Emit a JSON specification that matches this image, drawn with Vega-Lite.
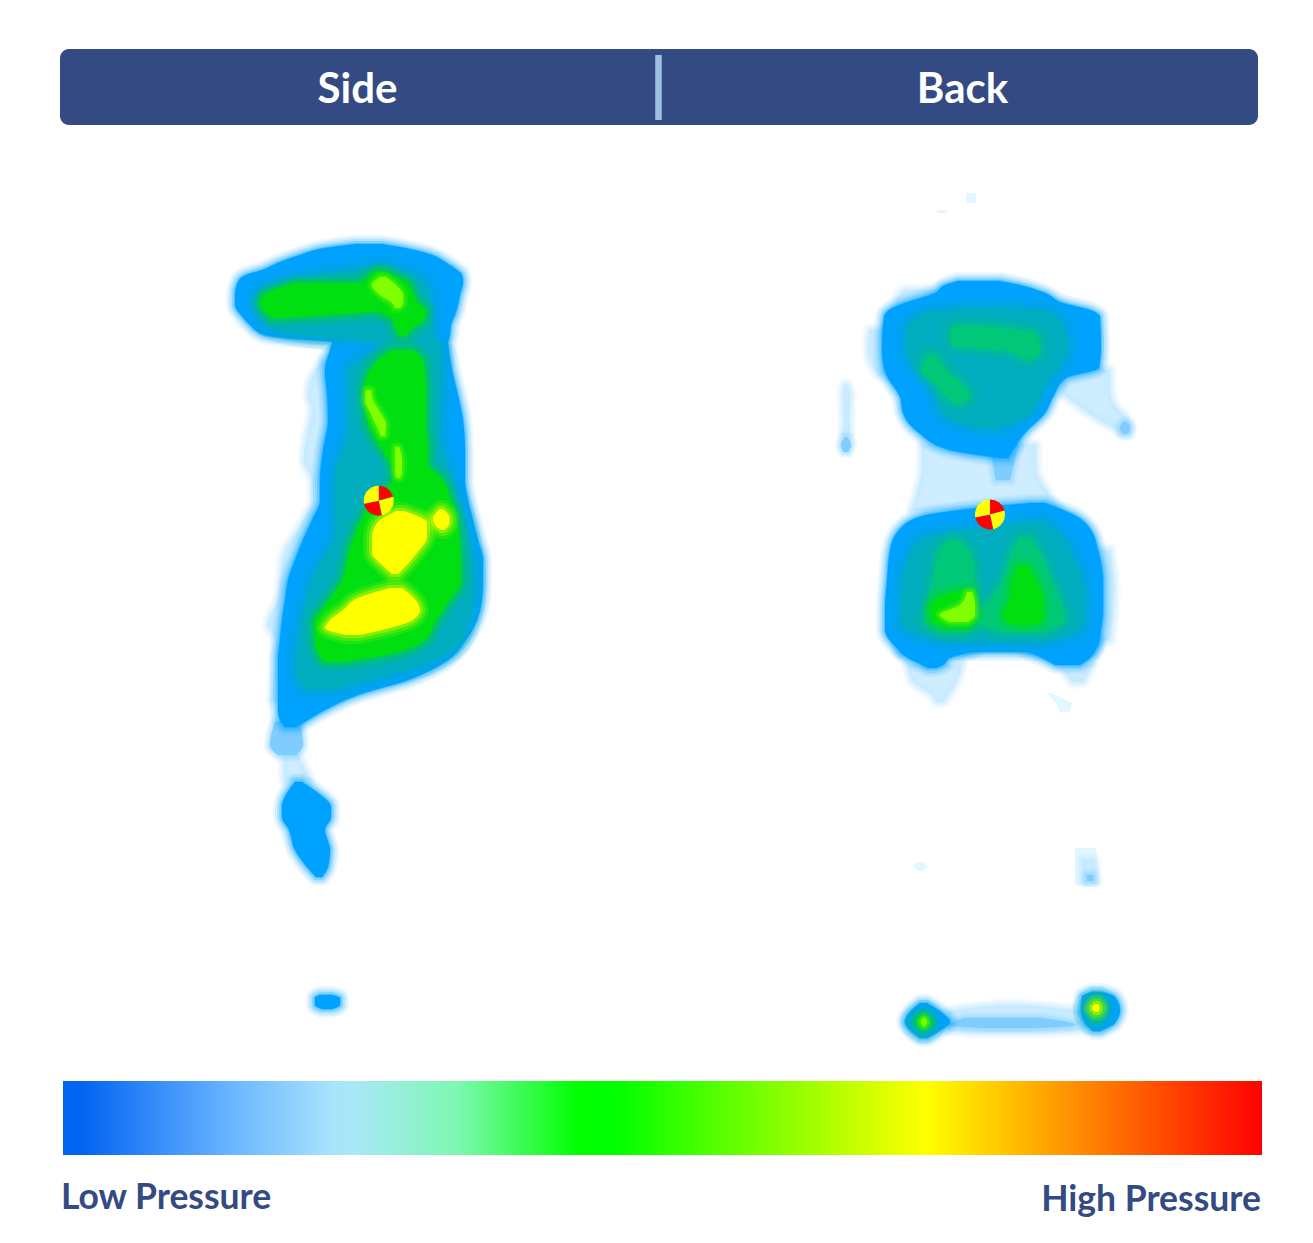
{
"$schema":"https://vega.github.io/schema/vega-lite/v6.json",
"padding":{"top":49,"left":0,"right":0,"bottom":0},
"spacing":0,
"background":"white",
"config":{"view":{"stroke":null},"area":{"strokeJoin":"round"}},
"datasets":{
"contours":[
{"b":"s1","p":"p0","y":193,"x0":966,"x1":976},{"b":"s1","p":"p0","y":203,"x0":966,"x1":976},
{"b":"s2","p":"p0","y":210,"x0":937,"x1":947},{"b":"s2","p":"p0","y":213,"x0":937,"x1":947},
{"b":"s3","p":"p0","y":693,"x0":1047,"x1":1051},{"b":"s3","p":"p0","y":703,"x0":1056,"x1":1072},{"b":"s3","p":"p0","y":712,"x0":1060,"x1":1070},
{"b":"s4","p":"p0","y":848,"x0":1075,"x1":1096},{"b":"s4","p":"p0","y":885,"x0":1075,"x1":1100},
{"b":"s5","p":"p0","y":862,"x0":918,"x1":923},{"b":"s5","p":"p0","y":866,"x0":912,"x1":928},{"b":"s5","p":"p0","y":871,"x0":918,"x1":923},

{"b":"h1","p":"p1","y":360,"x0":322,"x1":340},{"b":"h1","p":"p1","y":395,"x0":308,"x1":340},{"b":"h1","p":"p1","y":410,"x0":312,"x1":340},{"b":"h1","p":"p1","y":430,"x0":308,"x1":340},{"b":"h1","p":"p1","y":460,"x0":304,"x1":340},{"b":"h1","p":"p1","y":480,"x0":312,"x1":340},{"b":"h1","p":"p1","y":500,"x0":313,"x1":340},{"b":"h1","p":"p1","y":520,"x0":304,"x1":330},{"b":"h1","p":"p1","y":555,"x0":284,"x1":320},{"b":"h1","p":"p1","y":600,"x0":278,"x1":310},{"b":"h1","p":"p1","y":625,"x0":268,"x1":300},{"b":"h1","p":"p1","y":640,"x0":276,"x1":300},{"b":"h1","p":"p1","y":700,"x0":272,"x1":300},
{"b":"h2","p":"p1","y":755,"x0":284,"x1":298},{"b":"h2","p":"p1","y":780,"x0":284,"x1":310},
{"b":"h3","p":"p1","y":370,"x0":1065,"x1":1110},{"b":"h3","p":"p1","y":390,"x0":1062,"x1":1110},{"b":"h3","p":"p1","y":405,"x0":1078,"x1":1114},{"b":"h3","p":"p1","y":418,"x0":1096,"x1":1126},{"b":"h3","p":"p1","y":428,"x0":1114,"x1":1131},{"b":"h3","p":"p1","y":434,"x0":1120,"x1":1130},
{"b":"h4","p":"p1","y":330,"x0":870,"x1":885},{"b":"h4","p":"p1","y":350,"x0":868,"x1":885},{"b":"h4","p":"p1","y":375,"x0":878,"x1":890},
{"b":"h5","p":"p1","y":290,"x0":905,"x1":950},{"b":"h5","p":"p1","y":300,"x0":897,"x1":940},{"b":"h5","p":"p1","y":310,"x0":897,"x1":900},
{"b":"h6","p":"p1","y":445,"x0":922,"x1":1036},{"b":"h6","p":"p1","y":470,"x0":922,"x1":1036},{"b":"h6","p":"p1","y":490,"x0":918,"x1":1046},{"b":"h6","p":"p1","y":510,"x0":912,"x1":1060},
{"b":"h7","p":"p1","y":385,"x0":845,"x1":847},{"b":"h7","p":"p1","y":395,"x0":843,"x1":850},{"b":"h7","p":"p1","y":420,"x0":844,"x1":849},{"b":"h7","p":"p1","y":435,"x0":843,"x1":850},
{"b":"h8","p":"p1","y":665,"x0":908,"x1":962},{"b":"h8","p":"p1","y":680,"x0":912,"x1":957},{"b":"h8","p":"p1","y":695,"x0":932,"x1":948},{"b":"h8","p":"p1","y":702,"x0":937,"x1":943},
{"b":"h9","p":"p1","y":665,"x0":1060,"x1":1092},{"b":"h9","p":"p1","y":682,"x0":1072,"x1":1083},
{"b":"h10","p":"p1","y":550,"x0":1098,"x1":1110},{"b":"h10","p":"p1","y":590,"x0":1100,"x1":1114},{"b":"h10","p":"p1","y":640,"x0":1098,"x1":1110},
{"b":"h11","p":"p1","y":1005,"x0":1000,"x1":1020},{"b":"h11","p":"p1","y":1013,"x0":948,"x1":1085},{"b":"h11","p":"p1","y":1029,"x0":948,"x1":1085},{"b":"h11","p":"p1","y":1032,"x0":975,"x1":1040},
{"b":"h12","p":"p1","y":860,"x0":1082,"x1":1094},{"b":"h12","p":"p1","y":882,"x0":1083,"x1":1097},

{"b":"m1","p":"p2","y":722,"x0":275,"x1":300},{"b":"m1","p":"p2","y":745,"x0":270,"x1":303},{"b":"m1","p":"p2","y":755,"x0":278,"x1":296},
{"b":"m2","p":"p2","y":445,"x0":990,"x1":1018},{"b":"m2","p":"p2","y":480,"x0":996,"x1":1010},
{"b":"m3","p":"p2","y":437,"x0":845,"x1":847},{"b":"m3","p":"p2","y":445,"x0":841,"x1":851},{"b":"m3","p":"p2","y":452,"x0":844,"x1":848},
{"b":"m4","p":"p2","y":422,"x0":1123,"x1":1127},{"b":"m4","p":"p2","y":428,"x0":1120,"x1":1130},{"b":"m4","p":"p2","y":434,"x0":1123,"x1":1127},
{"b":"m5","p":"p2","y":1018,"x0":965,"x1":1040},{"b":"m5","p":"p2","y":1025,"x0":950,"x1":1075},{"b":"m5","p":"p2","y":1028,"x0":985,"x1":1035},
{"b":"m6","p":"p2","y":875,"x0":1087,"x1":1093},{"b":"m6","p":"p2","y":881,"x0":1087,"x1":1093},

{"b":"A","p":"p3","y":244,"x0":355,"x1":382},{"b":"A","p":"p3","y":248,"x0":325,"x1":405},{"b":"A","p":"p3","y":255,"x0":300,"x1":432},{"b":"A","p":"p3","y":262,"x0":280,"x1":445},{"b":"A","p":"p3","y":270,"x0":262,"x1":457},{"b":"A","p":"p3","y":275,"x0":246,"x1":462},{"b":"A","p":"p3","y":282,"x0":238,"x1":463},{"b":"A","p":"p3","y":295,"x0":235,"x1":460},{"b":"A","p":"p3","y":305,"x0":235,"x1":458},{"b":"A","p":"p3","y":315,"x0":241,"x1":455},{"b":"A","p":"p3","y":325,"x0":250,"x1":451},{"b":"A","p":"p3","y":335,"x0":264,"x1":450},{"b":"A","p":"p3","y":339,"x0":295,"x1":449},{"b":"A","p":"p3","y":342,"x0":332,"x1":448},{"b":"A","p":"p3","y":350,"x0":330,"x1":449},{"b":"A","p":"p3","y":370,"x0":325,"x1":452},{"b":"A","p":"p3","y":395,"x0":327,"x1":458},{"b":"A","p":"p3","y":420,"x0":328,"x1":463},{"b":"A","p":"p3","y":450,"x0":323,"x1":465},{"b":"A","p":"p3","y":480,"x0":320,"x1":465},{"b":"A","p":"p3","y":500,"x0":320,"x1":468},{"b":"A","p":"p3","y":520,"x0":312,"x1":473},{"b":"A","p":"p3","y":540,"x0":303,"x1":478},{"b":"A","p":"p3","y":560,"x0":295,"x1":483},{"b":"A","p":"p3","y":580,"x0":288,"x1":483},{"b":"A","p":"p3","y":600,"x0":285,"x1":482},{"b":"A","p":"p3","y":620,"x0":282,"x1":477},{"b":"A","p":"p3","y":640,"x0":280,"x1":466},{"b":"A","p":"p3","y":660,"x0":278,"x1":448},{"b":"A","p":"p3","y":680,"x0":278,"x1":408},{"b":"A","p":"p3","y":695,"x0":278,"x1":358},{"b":"A","p":"p3","y":710,"x0":278,"x1":325},{"b":"A","p":"p3","y":720,"x0":280,"x1":308},{"b":"A","p":"p3","y":727,"x0":285,"x1":296},
{"b":"B","p":"p3","y":782,"x0":295,"x1":302},{"b":"B","p":"p3","y":793,"x0":287,"x1":318},{"b":"B","p":"p3","y":807,"x0":282,"x1":331},{"b":"B","p":"p3","y":817,"x0":282,"x1":331},{"b":"B","p":"p3","y":830,"x0":289,"x1":325},{"b":"B","p":"p3","y":850,"x0":295,"x1":330},{"b":"B","p":"p3","y":867,"x0":307,"x1":328},{"b":"B","p":"p3","y":877,"x0":316,"x1":322},
{"b":"C","p":"p3","y":995,"x0":320,"x1":332},{"b":"C","p":"p3","y":998,"x0":315,"x1":340},{"b":"C","p":"p3","y":1005,"x0":315,"x1":340},{"b":"C","p":"p3","y":1009,"x0":322,"x1":332},
{"b":"D","p":"p3","y":281,"x0":958,"x1":1000},{"b":"D","p":"p3","y":285,"x0":945,"x1":1020},{"b":"D","p":"p3","y":293,"x0":935,"x1":1045},{"b":"D","p":"p3","y":303,"x0":905,"x1":1063},{"b":"D","p":"p3","y":310,"x0":889,"x1":1090},{"b":"D","p":"p3","y":317,"x0":884,"x1":1100},{"b":"D","p":"p3","y":347,"x0":882,"x1":1101},{"b":"D","p":"p3","y":368,"x0":884,"x1":1099},{"b":"D","p":"p3","y":378,"x0":888,"x1":1066},{"b":"D","p":"p3","y":397,"x0":900,"x1":1053},{"b":"D","p":"p3","y":413,"x0":903,"x1":1045},{"b":"D","p":"p3","y":433,"x0":919,"x1":1025},{"b":"D","p":"p3","y":450,"x0":950,"x1":1013},{"b":"D","p":"p3","y":458,"x0":1000,"x1":1008},
{"b":"E","p":"p3","y":503,"x0":1030,"x1":1045},{"b":"E","p":"p3","y":510,"x0":960,"x1":1063},{"b":"E","p":"p3","y":516,"x0":922,"x1":1076},{"b":"E","p":"p3","y":530,"x0":899,"x1":1091},{"b":"E","p":"p3","y":550,"x0":890,"x1":1098},{"b":"E","p":"p3","y":580,"x0":887,"x1":1103},{"b":"E","p":"p3","y":610,"x0":885,"x1":1103},{"b":"E","p":"p3","y":630,"x0":885,"x1":1101},{"b":"E","p":"p3","y":645,"x0":894,"x1":1098},{"b":"E","p":"p3","y":652,"x0":902,"x1":1093},
{"b":"F","p":"p3","y":640,"x0":900,"x1":985},{"b":"F","p":"p3","y":650,"x0":900,"x1":975},{"b":"F","p":"p3","y":658,"x0":908,"x1":950},{"b":"F","p":"p3","y":665,"x0":922,"x1":943},{"b":"F","p":"p3","y":668,"x0":928,"x1":936},
{"b":"G","p":"p3","y":640,"x0":1010,"x1":1097},{"b":"G","p":"p3","y":650,"x0":1025,"x1":1095},{"b":"G","p":"p3","y":658,"x0":1042,"x1":1090},{"b":"G","p":"p3","y":665,"x0":1055,"x1":1080},
{"b":"H","p":"p3","y":1003,"x0":920,"x1":927},{"b":"H","p":"p3","y":1012,"x0":910,"x1":941},{"b":"H","p":"p3","y":1022,"x0":905,"x1":950},{"b":"H","p":"p3","y":1030,"x0":910,"x1":941},{"b":"H","p":"p3","y":1038,"x0":920,"x1":927},
{"b":"I","p":"p3","y":992,"x0":1092,"x1":1102},{"b":"I","p":"p3","y":997,"x0":1082,"x1":1115},{"b":"I","p":"p3","y":1010,"x0":1081,"x1":1120},{"b":"I","p":"p3","y":1023,"x0":1085,"x1":1115},{"b":"I","p":"p3","y":1031,"x0":1093,"x1":1100},

{"b":"A","p":"p4","y":266,"x0":376,"x1":386},{"b":"A","p":"p4","y":280,"x0":295,"x1":423},{"b":"A","p":"p4","y":297,"x0":256,"x1":430},{"b":"A","p":"p4","y":320,"x0":262,"x1":433},{"b":"A","p":"p4","y":330,"x0":276,"x1":433},{"b":"A","p":"p4","y":336,"x0":310,"x1":433},{"b":"A","p":"p4","y":343,"x0":378,"x1":440},{"b":"A","p":"p4","y":373,"x0":348,"x1":442},{"b":"A","p":"p4","y":430,"x0":348,"x1":440},{"b":"A","p":"p4","y":480,"x0":335,"x1":452},{"b":"A","p":"p4","y":530,"x0":335,"x1":467},{"b":"A","p":"p4","y":580,"x0":312,"x1":475},{"b":"A","p":"p4","y":630,"x0":300,"x1":466},{"b":"A","p":"p4","y":663,"x0":296,"x1":428},{"b":"A","p":"p4","y":680,"x0":298,"x1":368},{"b":"A","p":"p4","y":690,"x0":308,"x1":335},
{"b":"D","p":"p4","y":308,"x0":970,"x1":1010},{"b":"D","p":"p4","y":312,"x0":928,"x1":1050},{"b":"D","p":"p4","y":330,"x0":906,"x1":1065},{"b":"D","p":"p4","y":350,"x0":906,"x1":1068},{"b":"D","p":"p4","y":365,"x0":913,"x1":1061},{"b":"D","p":"p4","y":385,"x0":930,"x1":1045},{"b":"D","p":"p4","y":400,"x0":936,"x1":1038},{"b":"D","p":"p4","y":415,"x0":943,"x1":1028},{"b":"D","p":"p4","y":428,"x0":975,"x1":1000},
{"b":"E","p":"p4","y":522,"x0":1030,"x1":1045},{"b":"E","p":"p4","y":540,"x0":920,"x1":1065},{"b":"E","p":"p4","y":560,"x0":908,"x1":1075},{"b":"E","p":"p4","y":593,"x0":901,"x1":1085},{"b":"E","p":"p4","y":620,"x0":901,"x1":1085},{"b":"E","p":"p4","y":633,"x0":913,"x1":1075},{"b":"E","p":"p4","y":642,"x0":950,"x1":1045},
{"b":"H","p":"p4","y":1012,"x0":922,"x1":926},{"b":"H","p":"p4","y":1022,"x0":912,"x1":935},{"b":"H","p":"p4","y":1032,"x0":922,"x1":926},
{"b":"I","p":"p4","y":998,"x0":1094,"x1":1099},{"b":"I","p":"p4","y":1008,"x0":1085,"x1":1108},{"b":"I","p":"p4","y":1018,"x0":1088,"x1":1105},{"b":"I","p":"p4","y":1024,"x0":1094,"x1":1099},

{"b":"J","p":"p5","y":326,"x0":955,"x1":985},{"b":"J","p":"p5","y":333,"x0":950,"x1":1035},{"b":"J","p":"p5","y":345,"x0":952,"x1":1040},{"b":"J","p":"p5","y":352,"x0":1012,"x1":1040},{"b":"J","p":"p5","y":359,"x0":1022,"x1":1032},
{"b":"K","p":"p5","y":355,"x0":928,"x1":936},{"b":"K","p":"p5","y":370,"x0":922,"x1":946},{"b":"K","p":"p5","y":385,"x0":937,"x1":963},{"b":"K","p":"p5","y":398,"x0":948,"x1":970},{"b":"K","p":"p5","y":403,"x0":955,"x1":962},
{"b":"L","p":"p5","y":540,"x0":950,"x1":958},{"b":"L","p":"p5","y":552,"x0":938,"x1":970},{"b":"L","p":"p5","y":575,"x0":934,"x1":975},{"b":"L","p":"p5","y":600,"x0":928,"x1":975},{"b":"L","p":"p5","y":620,"x0":924,"x1":975},{"b":"L","p":"p5","y":632,"x0":940,"x1":965},
{"b":"M","p":"p5","y":538,"x0":1020,"x1":1030},{"b":"M","p":"p5","y":552,"x0":1012,"x1":1040},{"b":"M","p":"p5","y":575,"x0":1005,"x1":1050},{"b":"M","p":"p5","y":600,"x0":990,"x1":1060},{"b":"M","p":"p5","y":620,"x0":975,"x1":1065},{"b":"M","p":"p5","y":632,"x0":1000,"x1":1045},

{"b":"N","p":"p6","y":283,"x0":295,"x1":405},{"b":"N","p":"p6","y":297,"x0":262,"x1":410},{"b":"N","p":"p6","y":305,"x0":260,"x1":410},{"b":"N","p":"p6","y":312,"x0":265,"x1":370},{"b":"N","p":"p6","y":318,"x0":272,"x1":282},
{"b":"O","p":"p6","y":271,"x0":376,"x1":385},{"b":"O","p":"p6","y":283,"x0":364,"x1":406},{"b":"O","p":"p6","y":300,"x0":372,"x1":416},{"b":"O","p":"p6","y":312,"x0":382,"x1":426},{"b":"O","p":"p6","y":320,"x0":392,"x1":424},{"b":"O","p":"p6","y":328,"x0":395,"x1":413},{"b":"O","p":"p6","y":336,"x0":400,"x1":406},
{"b":"P","p":"p6","y":350,"x0":392,"x1":412},{"b":"P","p":"p6","y":360,"x0":378,"x1":423},{"b":"P","p":"p6","y":390,"x0":364,"x1":426},{"b":"P","p":"p6","y":420,"x0":367,"x1":426},{"b":"P","p":"p6","y":450,"x0":382,"x1":428},{"b":"P","p":"p6","y":463,"x0":390,"x1":428},{"b":"P","p":"p6","y":480,"x0":393,"x1":443},{"b":"P","p":"p6","y":497,"x0":375,"x1":450},{"b":"P","p":"p6","y":513,"x0":365,"x1":456},{"b":"P","p":"p6","y":547,"x0":350,"x1":460},{"b":"P","p":"p6","y":580,"x0":342,"x1":461},{"b":"P","p":"p6","y":607,"x0":324,"x1":445},{"b":"P","p":"p6","y":623,"x0":314,"x1":435},{"b":"P","p":"p6","y":640,"x0":315,"x1":425},{"b":"P","p":"p6","y":653,"x0":318,"x1":395},{"b":"P","p":"p6","y":662,"x0":325,"x1":345},
{"b":"Q","p":"p6","y":590,"x0":962,"x1":973},{"b":"Q","p":"p6","y":598,"x0":937,"x1":975},{"b":"Q","p":"p6","y":610,"x0":930,"x1":976},{"b":"Q","p":"p6","y":620,"x0":932,"x1":975},{"b":"Q","p":"p6","y":627,"x0":945,"x1":968},
{"b":"R","p":"p6","y":566,"x0":1018,"x1":1028},{"b":"R","p":"p6","y":577,"x0":1013,"x1":1034},{"b":"R","p":"p6","y":600,"x0":1009,"x1":1043},{"b":"R","p":"p6","y":618,"x0":1003,"x1":1043},{"b":"R","p":"p6","y":625,"x0":1015,"x1":1035},
{"b":"H","p":"p6","y":1016,"x0":922,"x1":925},{"b":"H","p":"p6","y":1022,"x0":917,"x1":930},{"b":"H","p":"p6","y":1028,"x0":922,"x1":925},
{"b":"I","p":"p6","y":1000,"x0":1094,"x1":1098},{"b":"I","p":"p6","y":1008,"x0":1090,"x1":1103},{"b":"I","p":"p6","y":1016,"x0":1094,"x1":1098},

{"b":"S","p":"p7","y":277,"x0":380,"x1":386},{"b":"S","p":"p7","y":285,"x0":372,"x1":396},{"b":"S","p":"p7","y":295,"x0":380,"x1":403},{"b":"S","p":"p7","y":303,"x0":392,"x1":403},{"b":"S","p":"p7","y":308,"x0":395,"x1":400},
{"b":"T","p":"p7","y":390,"x0":366,"x1":371},{"b":"T","p":"p7","y":400,"x0":365,"x1":373},{"b":"T","p":"p7","y":412,"x0":370,"x1":380},{"b":"T","p":"p7","y":425,"x0":376,"x1":386},{"b":"T","p":"p7","y":436,"x0":381,"x1":385},
{"b":"U","p":"p7","y":447,"x0":395,"x1":399},{"b":"U","p":"p7","y":460,"x0":395,"x1":402},{"b":"U","p":"p7","y":472,"x0":395,"x1":402},{"b":"U","p":"p7","y":478,"x0":397,"x1":400},
{"b":"V","p":"p7","y":592,"x0":967,"x1":972},{"b":"V","p":"p7","y":605,"x0":960,"x1":975},{"b":"V","p":"p7","y":615,"x0":940,"x1":975},{"b":"V","p":"p7","y":622,"x0":950,"x1":968},
{"b":"H","p":"p7","y":1018,"x0":923,"x1":925},{"b":"H","p":"p7","y":1022,"x0":921,"x1":927},{"b":"H","p":"p7","y":1026,"x0":923,"x1":925},

{"b":"W","p":"p8","y":511,"x0":396,"x1":404},{"b":"W","p":"p8","y":523,"x0":377,"x1":427},{"b":"W","p":"p8","y":537,"x0":372,"x1":427},{"b":"W","p":"p8","y":553,"x0":372,"x1":417},{"b":"W","p":"p8","y":565,"x0":382,"x1":407},{"b":"W","p":"p8","y":574,"x0":392,"x1":398},
{"b":"X","p":"p8","y":509,"x0":440,"x1":443},{"b":"X","p":"p8","y":518,"x0":433,"x1":450},{"b":"X","p":"p8","y":525,"x0":435,"x1":449},{"b":"X","p":"p8","y":530,"x0":441,"x1":444},
{"b":"Y","p":"p8","y":588,"x0":390,"x1":402},{"b":"Y","p":"p8","y":597,"x0":360,"x1":413},{"b":"Y","p":"p8","y":610,"x0":343,"x1":420},{"b":"Y","p":"p8","y":620,"x0":330,"x1":413},{"b":"Y","p":"p8","y":628,"x0":325,"x1":390},{"b":"Y","p":"p8","y":635,"x0":345,"x1":360},
{"b":"Z","p":"p8","y":1004,"x0":1095,"x1":1098},{"b":"Z","p":"p8","y":1008,"x0":1092,"x1":1100},{"b":"Z","p":"p8","y":1012,"x0":1095,"x1":1098}
],
"markers":[
{"m":"side","cx":378.7,"cy":500.7,"a0":0,"a1":75,"c":"red"},{"m":"side","cx":378.7,"cy":500.7,"a0":75,"a1":168,"c":"yellow"},{"m":"side","cx":378.7,"cy":500.7,"a0":168,"a1":258,"c":"red"},{"m":"side","cx":378.7,"cy":500.7,"a0":258,"a1":360,"c":"yellow"},
{"m":"back","cx":990,"cy":514.5,"a0":0,"a1":75,"c":"red"},{"m":"back","cx":990,"cy":514.5,"a0":75,"a1":168,"c":"yellow"},{"m":"back","cx":990,"cy":514.5,"a0":168,"a1":258,"c":"red"},{"m":"back","cx":990,"cy":514.5,"a0":258,"a1":360,"c":"yellow"}
]
},
"vconcat":[
{"width":1313,"height":76,
 "data":{"values":[{"panel":"Side"},{"panel":"Back"}]},
 "layer":[
  {"transform":[{"filter":"datum.panel=='Side'"}],"mark":{"type":"rect","color":"#334a82","cornerRadiusTopLeft":9,"cornerRadiusBottomLeft":9},
   "encoding":{"x":{"field":"panel","type":"nominal","axis":null,"sort":null,"scale":{"domain":["Side","Back"],"range":[60,1258],"paddingInner":0,"paddingOuter":0}}}},
  {"transform":[{"filter":"datum.panel=='Back'"}],"mark":{"type":"rect","color":"#334a82","cornerRadiusTopRight":9,"cornerRadiusBottomRight":9},
   "encoding":{"x":{"field":"panel","type":"nominal","axis":null,"sort":null}}},
  {"mark":{"type":"rule","color":"#9dc0e0","strokeWidth":6,"xOffset":-0.5},
   "encoding":{"x":{"datum":"Back","type":"nominal","bandPosition":0,"axis":null},
    "y":{"datum":6,"type":"quantitative","axis":null,"scale":{"domain":[76,0]}},"y2":{"datum":71}}},
  {"transform":[{"filter":"datum.panel=='Side'"}],"mark":{"type":"text","color":"white","font":"Lato","fontWeight":700,"fontSize":42,"dx":-2,"dy":3,"baseline":"middle"},
   "encoding":{"x":{"field":"panel","type":"nominal","axis":null,"sort":null},"text":{"field":"panel"}}},
  {"transform":[{"filter":"datum.panel=='Back'"}],"mark":{"type":"text","color":"white","font":"Lato","fontWeight":700,"fontSize":42,"dx":4,"dy":3,"baseline":"middle"},
   "encoding":{"x":{"field":"panel","type":"nominal","axis":null,"sort":null},"text":{"field":"panel"}}}
 ]},
{"width":1313,"height":956,
 "layer":[
  {"data":{"name":"contours"},
   "encoding":{
    "x":{"field":"x0","type":"quantitative","axis":null,"scale":{"domain":[0,1313],"nice":false,"zero":false}},
    "x2":{"field":"x1"},
    "y":{"field":"y","type":"quantitative","axis":null,"scale":{"domain":[1081,125],"nice":false,"zero":false}},
    "detail":{"field":"b"},
    "color":{"field":"p","type":"nominal","legend":null,"scale":{"domain":["p0","p1","p2","p3","p4","p5","p6","p7","p8"],"range":["#e2f7ff","#c2e8ff","#7fcdff","#00a2ff","#00aebf","#00c878","#00e010","#80ff00","#ffff00"]}},
    "stroke":{"field":"p","type":"nominal","legend":null,"scale":{"domain":["p0","p1","p2","p3","p4","p5","p6","p7","p8"],"range":["#e2f7ff","#c2e8ff","#7fcdff","#00a2ff","#00aebf","#00c878","#00e010","#80ff00","#ffff00"]}}
   },
   "layer":[
    {"transform":[{"filter":"datum.p=='p0'"}],"mark":{"type":"area","orient":"horizontal","strokeWidth":0}},
    {"transform":[{"filter":"datum.p=='p1'"}],"mark":{"type":"area","orient":"horizontal","interpolate":"monotone","fillOpacity":0,"strokeWidth":14,"strokeOpacity":0.14}},
    {"transform":[{"filter":"datum.p=='p1'"}],"mark":{"type":"area","orient":"horizontal","interpolate":"monotone","fillOpacity":0,"strokeWidth":10,"strokeOpacity":0.2}},
    {"transform":[{"filter":"datum.p=='p1'"}],"mark":{"type":"area","orient":"horizontal","interpolate":"monotone","fillOpacity":0,"strokeWidth":6,"strokeOpacity":0.3}},
    {"transform":[{"filter":"datum.p=='p1'"}],"mark":{"type":"area","orient":"horizontal","interpolate":"monotone","fillOpacity":0.8,"strokeWidth":2,"strokeOpacity":0.4}},
    {"transform":[{"filter":"datum.p=='p2'"}],"mark":{"type":"area","orient":"horizontal","interpolate":"monotone","fillOpacity":0,"strokeWidth":12,"strokeOpacity":0.16}},
    {"transform":[{"filter":"datum.p=='p2'"}],"mark":{"type":"area","orient":"horizontal","interpolate":"monotone","fillOpacity":0,"strokeWidth":7,"strokeOpacity":0.25}},
    {"transform":[{"filter":"datum.p=='p2'"}],"mark":{"type":"area","orient":"horizontal","interpolate":"monotone","strokeWidth":2,"strokeOpacity":0.4}},
    {"transform":[{"filter":"datum.p=='p3'"}],"mark":{"type":"area","orient":"horizontal","interpolate":"monotone","fillOpacity":0,"strokeWidth":18,"strokeOpacity":0.08}},
    {"transform":[{"filter":"datum.p=='p3'"}],"mark":{"type":"area","orient":"horizontal","interpolate":"monotone","fillOpacity":0,"strokeWidth":14,"strokeOpacity":0.1}},
    {"transform":[{"filter":"datum.p=='p3'"}],"mark":{"type":"area","orient":"horizontal","interpolate":"monotone","fillOpacity":0,"strokeWidth":10,"strokeOpacity":0.15}},
    {"transform":[{"filter":"datum.p=='p3'"}],"mark":{"type":"area","orient":"horizontal","interpolate":"monotone","fillOpacity":0,"strokeWidth":6,"strokeOpacity":0.25}},
    {"transform":[{"filter":"datum.p=='p3'"}],"mark":{"type":"area","orient":"horizontal","interpolate":"monotone","strokeWidth":2,"strokeOpacity":0.45}},
    {"transform":[{"filter":"datum.p=='p4'"}],"mark":{"type":"area","orient":"horizontal","interpolate":"monotone","fillOpacity":0,"strokeWidth":24,"strokeOpacity":0.12}},
    {"transform":[{"filter":"datum.p=='p4'"}],"mark":{"type":"area","orient":"horizontal","interpolate":"monotone","fillOpacity":0,"strokeWidth":16,"strokeOpacity":0.18}},
    {"transform":[{"filter":"datum.p=='p4'"}],"mark":{"type":"area","orient":"horizontal","interpolate":"monotone","fillOpacity":0,"strokeWidth":8,"strokeOpacity":0.28}},
    {"transform":[{"filter":"datum.p=='p4'"}],"mark":{"type":"area","orient":"horizontal","interpolate":"monotone","strokeWidth":0}},
    {"transform":[{"filter":"datum.p=='p5'"}],"mark":{"type":"area","orient":"horizontal","interpolate":"monotone","fillOpacity":0,"strokeWidth":20,"strokeOpacity":0.12}},
    {"transform":[{"filter":"datum.p=='p5'"}],"mark":{"type":"area","orient":"horizontal","interpolate":"monotone","fillOpacity":0,"strokeWidth":13,"strokeOpacity":0.18}},
    {"transform":[{"filter":"datum.p=='p5'"}],"mark":{"type":"area","orient":"horizontal","interpolate":"monotone","fillOpacity":0,"strokeWidth":6,"strokeOpacity":0.28}},
    {"transform":[{"filter":"datum.p=='p5'"}],"mark":{"type":"area","orient":"horizontal","interpolate":"monotone","strokeWidth":0}},
    {"transform":[{"filter":"datum.p=='p6'"}],"mark":{"type":"area","orient":"horizontal","interpolate":"monotone","fillOpacity":0,"strokeWidth":18,"strokeOpacity":0.12}},
    {"transform":[{"filter":"datum.p=='p6'"}],"mark":{"type":"area","orient":"horizontal","interpolate":"monotone","fillOpacity":0,"strokeWidth":12,"strokeOpacity":0.18}},
    {"transform":[{"filter":"datum.p=='p6'"}],"mark":{"type":"area","orient":"horizontal","interpolate":"monotone","fillOpacity":0,"strokeWidth":6,"strokeOpacity":0.28}},
    {"transform":[{"filter":"datum.p=='p6'"}],"mark":{"type":"area","orient":"horizontal","interpolate":"monotone","strokeWidth":0}},
    {"transform":[{"filter":"datum.p=='p7'"}],"mark":{"type":"area","orient":"horizontal","interpolate":"monotone","fillOpacity":0,"strokeWidth":10,"strokeOpacity":0.15}},
    {"transform":[{"filter":"datum.p=='p7'"}],"mark":{"type":"area","orient":"horizontal","interpolate":"monotone","fillOpacity":0,"strokeWidth":5,"strokeOpacity":0.3}},
    {"transform":[{"filter":"datum.p=='p7'"}],"mark":{"type":"area","orient":"horizontal","interpolate":"monotone","strokeWidth":0}},
    {"transform":[{"filter":"datum.p=='p8'"}],"mark":{"type":"area","orient":"horizontal","interpolate":"monotone","fillOpacity":0,"strokeWidth":18,"strokeOpacity":0.12}},
    {"transform":[{"filter":"datum.p=='p8'"}],"mark":{"type":"area","orient":"horizontal","interpolate":"monotone","fillOpacity":0,"strokeWidth":12,"strokeOpacity":0.18}},
    {"transform":[{"filter":"datum.p=='p8'"}],"mark":{"type":"area","orient":"horizontal","interpolate":"monotone","fillOpacity":0,"strokeWidth":6,"strokeOpacity":0.32}},
    {"transform":[{"filter":"datum.p=='p8'"}],"mark":{"type":"area","orient":"horizontal","interpolate":"monotone","strokeWidth":0}}
   ]},
  {"data":{"name":"markers"},
   "mark":{"type":"arc","outerRadius":15,"innerRadius":0},
   "encoding":{
    "x":{"field":"cx","type":"quantitative"},
    "y":{"field":"cy","type":"quantitative"},
    "theta":{"field":"a0","type":"quantitative","scale":{"domain":[0,360],"range":[0,6.28318]}},
    "theta2":{"field":"a1"},
    "fill":{"field":"c","type":"nominal","legend":null,"scale":{"domain":["red","yellow"],"range":["#ff0000","#ffff00"]}}
   }}
 ],
 "resolve":{"scale":{"fill":"independent"}}
},
{"width":1313,"height":74,
 "data":{"values":[{"from":0,"to":100}]},
 "mark":{"type":"rect","color":{"gradient":"linear","x1":0,"x2":1,"y1":0,"y2":0,"stops":[
   {"offset":0,"color":"#0064f0"},{"offset":0.015,"color":"#0064f0"},{"offset":0.14,"color":"#6ab5ff"},{"offset":0.225,"color":"#a8e4fb"},{"offset":0.245,"color":"#a8e8f6"},{"offset":0.33,"color":"#7cf8b0"},{"offset":0.43,"color":"#00ff00"},{"offset":0.46,"color":"#00ff00"},{"offset":0.72,"color":"#ffff00"},{"offset":1,"color":"#ff0000"}]}},
 "encoding":{"x":{"field":"from","type":"quantitative","axis":null,"scale":{"domain":[0,100],"range":[63,1262],"nice":false}},"x2":{"field":"to"}}
},
{"width":1313,"height":88,
 "data":{"values":[{"label":"Low Pressure","v":0},{"label":"High Pressure","v":100}]},
 "layer":[
  {"transform":[{"filter":"datum.v==0"}],"mark":{"type":"text","color":"#334a82","font":"Lato","fontWeight":700,"fontSize":35.5,"align":"left","baseline":"middle","dy":-1},
   "encoding":{"x":{"field":"v","type":"quantitative","axis":null,"scale":{"domain":[0,100],"range":[61,1261],"nice":false}},"text":{"field":"label"}}},
  {"transform":[{"filter":"datum.v==100"}],"mark":{"type":"text","color":"#334a82","font":"Lato","fontWeight":700,"fontSize":35.5,"align":"right","baseline":"middle","dy":1},
   "encoding":{"x":{"field":"v","type":"quantitative","axis":null},"text":{"field":"label"}}}
 ]}
]
}
